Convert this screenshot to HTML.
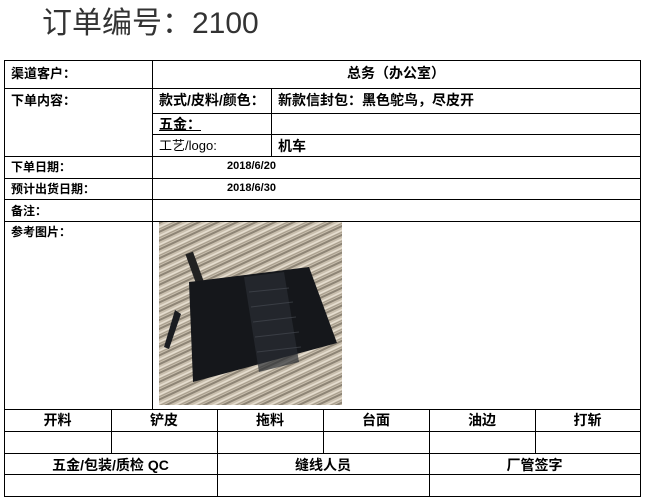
<!DOCTYPE html>
<html><head><meta charset="utf-8"><style>
body{margin:0;width:657px;height:502px;background:#fff;position:relative;overflow:hidden;font-family:"Liberation Sans","Noto Sans CJK SC",sans-serif;}
.t{position:absolute;font-size:13px;font-weight:bold;color:#000;white-space:nowrap;line-height:1;}
.h{position:absolute;background:#000;height:1px}
.v{position:absolute;background:#000;width:1px}
.c{text-align:center}
</style></head><body>
<div style="position:absolute;left:42px;top:-2px;font-size:30px;color:#333;font-family:'Liberation Sans','Noto Sans CJK SC',sans-serif;">订单编号：2100</div>

<div class="h" style="left:4px;width:637px;top:60px;height:1px"></div>
<div class="h" style="left:4px;width:637px;top:88px"></div>
<div class="h" style="left:152px;width:489px;top:113px"></div>
<div class="h" style="left:152px;width:489px;top:134px"></div>
<div class="h" style="left:4px;width:637px;top:156px"></div>
<div class="h" style="left:4px;width:637px;top:178px"></div>
<div class="h" style="left:4px;width:637px;top:199px"></div>
<div class="h" style="left:4px;width:637px;top:221px"></div>
<div class="h" style="left:4px;width:637px;top:409px"></div>
<div class="h" style="left:4px;width:637px;top:431px"></div>
<div class="h" style="left:4px;width:637px;top:453px"></div>
<div class="h" style="left:4px;width:637px;top:474px"></div>
<div class="h" style="left:4px;width:637px;top:496px"></div>
<div class="v" style="left:4px;top:60px;height:437px"></div>
<div class="v" style="left:640px;top:60px;height:437px"></div>
<div class="v" style="left:152px;top:60px;height:349px"></div>
<div class="v" style="left:271px;top:88px;height:68px"></div>
<div class="v" style="left:111px;top:409px;height:44px"></div>
<div class="v" style="left:217px;top:409px;height:88px"></div>
<div class="v" style="left:323px;top:409px;height:44px"></div>
<div class="v" style="left:429px;top:409px;height:88px"></div>
<div class="v" style="left:535px;top:409px;height:44px"></div>

<div class="t" style="left:11px;top:67px">渠道客户：</div>
<div class="t c" style="left:152px;width:488px;top:66px;font-size:14px">总务（办公室）</div>
<div class="t" style="left:11px;top:94px">下单内容：</div>
<div class="t" style="left:159px;top:93px;font-size:14px">款式/皮料/颜色：</div>
<div class="t" style="left:278px;top:93px;font-size:14px">新款信封包：黑色鸵鸟，尽皮开</div>
<div class="t" style="left:159px;top:117px;font-size:14px;text-decoration:underline">五金：</div>
<div class="t" style="left:159px;top:139px;font-weight:normal;font-size:13px">工艺/logo:</div>
<div class="t" style="left:278px;top:139px;font-size:14px">机车</div>
<div class="t" style="left:11px;top:161px;font-size:12px">下单日期：</div>
<div class="t" style="left:227px;top:161px;font-size:11px">2018/6/20</div>
<div class="t" style="left:11px;top:183px;font-size:12px">预计出货日期：</div>
<div class="t" style="left:227px;top:183px;font-size:11px">2018/6/30</div>
<div class="t" style="left:11px;top:205px;font-size:12px">备注：</div>
<div class="t" style="left:11px;top:226px;font-size:12px">参考图片：</div>

<svg style="position:absolute;left:159px;top:222px" width="183" height="183" viewBox="0 0 183 183">
<defs><pattern id="s" width="183" height="8" patternUnits="userSpaceOnUse" patternTransform="rotate(-25)">
<rect width="183" height="8" fill="#c9bfae"/><rect y="0" width="183" height="2" fill="#8d8475"/><rect y="4" width="183" height="1.5" fill="#e6ded0"/><rect y="6" width="183" height="1" fill="#a69c8b"/></pattern></defs>
<rect width="183" height="183" fill="url(#s)"/>
<path d="M16 88 L5 125 L10 127 L22 92Z" fill="#1a1c20"/>
<rect x="32" y="30" width="8" height="35" fill="#222" transform="rotate(-20 36 47)"/>
<path d="M30 60 L150 45 L178 121 L34 160 Z" fill="#15171b"/>
<path d="M85 55 L125 50 L140 140 L100 150 Z" fill="#2a2d33" opacity=".7"/>
<g stroke="#4a4e56" stroke-width="1" opacity=".6">
<path d="M90 70 L130 66 M92 85 L134 80 M94 100 L137 95 M96 115 L140 110 M98 130 L142 125"/>
</g>
</svg>

<div class="t c" style="left:4px;width:107px;top:413px;font-size:14px">开料</div>
<div class="t c" style="left:111px;width:106px;top:413px;font-size:14px">铲皮</div>
<div class="t c" style="left:217px;width:106px;top:413px;font-size:14px">拖料</div>
<div class="t c" style="left:323px;width:106px;top:413px;font-size:14px">台面</div>
<div class="t c" style="left:429px;width:106px;top:413px;font-size:14px">油边</div>
<div class="t c" style="left:535px;width:105px;top:413px;font-size:14px">打斩</div>
<div class="t c" style="left:4px;width:213px;top:458px;font-size:14px">五金/包装/质检 QC</div>
<div class="t c" style="left:217px;width:212px;top:458px;font-size:14px">缝线人员</div>
<div class="t c" style="left:429px;width:211px;top:458px;font-size:14px">厂管签字</div>
</body></html>
